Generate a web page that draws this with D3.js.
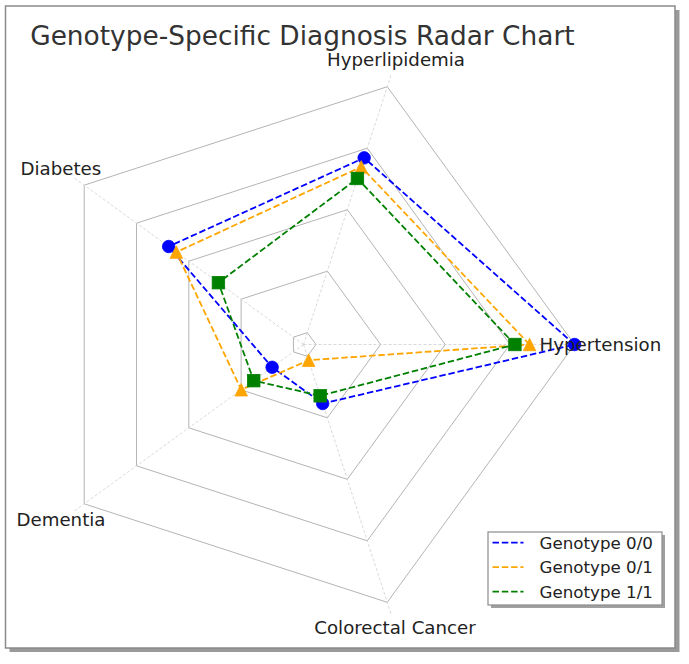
<!DOCTYPE html>
<html>
<head>
<meta charset="utf-8">
<script src="https://cdn.jsdelivr.net/npm/d3@7"></script>
<style>
  html, body { margin: 0; padding: 0; background: #ffffff; }
  svg { display: block; }
  text { font-family: "DejaVu Sans", sans-serif; }
</style>
</head>
<body>
<svg id="chart" width="689" height="664"></svg>
<script>
// ---- data ----
const categories = ["Hypertension", "Hyperlipidemia", "Diabetes", "Dementia", "Colorectal Cancer"];
const seriesNames = ["Genotype 0/0", "Genotype 0/1", "Genotype 1/1"];
const genotype00 = [100.0, 72.4, 61.5, 14.3, 22.9];
const genotype01 = [83.4, 68.9, 58.0, 28.4, 6.1];
const genotype11 = [78.0, 64.4, 38.8, 22.7, 19.9];
const gridTicks = [4.6, 28.45, 52.3, 76.15, 100.0];
const radialMax = 105;

// ---- styles / layout ----
const colors = ["#0000ff", "#ffa500", "#008000"];
const markers = ["circle", "triangle", "square"];
const cx = 303.5, cy = 344.5, R = 284.6;
const labelLayout = [
  {dx: 236, dy: 6, anchor: "start"},
  {dx: 92.5, dy: -278.5, anchor: "middle"},
  {dx: -283, dy: -169.5, anchor: "start"},
  {dx: -287, dy: 181.5, anchor: "start"},
  {dx: 91.5, dy: 289.5, anchor: "middle"}
];

const svg = d3.select("#chart");

// figure frame with shadow
svg.append("rect").attr("x", 9.5).attr("y", 10).attr("width", 670).attr("height", 642)
  .attr("fill", "#9a9a9a");
svg.append("rect").attr("x", 5.5).attr("y", 6).attr("width", 669.5).attr("height", 642)
  .attr("fill", "#ffffff").attr("stroke", "#8a8a8a").attr("stroke-width", 1.5);

// title
svg.append("text").attr("x", 30.2).attr("y", 44.5)
  .attr("font-size", 26.4).attr("fill", "#333333")
  .text("Genotype-Specific Diagnosis Radar Chart");

const n = categories.length;
const angle = d3.scaleLinear().domain([0, n]).range([0, 2 * Math.PI]);
const r = d3.scaleLinear().domain([0, radialMax]).range([0, R]);
const px = (i, v) => cx + r(v) * Math.cos(angle(i));
const py = (i, v) => cy - r(v) * Math.sin(angle(i));

const g = svg.append("g");

// polygon grid
gridTicks.forEach(t => {
  const pts = d3.range(n).map(i => [px(i, t), py(i, t)]);
  g.append("path").attr("d", d3.line().curve(d3.curveLinearClosed)(pts))
    .attr("fill", "none").attr("stroke", "#b4b4b4").attr("stroke-width", 1);
});

// spokes
d3.range(n).forEach(i => {
  g.append("line")
    .attr("x1", cx).attr("y1", cy)
    .attr("x2", px(i, radialMax)).attr("y2", py(i, radialMax))
    .attr("stroke", "#cfcfcf").attr("stroke-width", 0.8)
    .attr("stroke-dasharray", "3,2");
});

// category labels
categories.forEach((c, i) => {
  const L = labelLayout[i];
  svg.append("text").attr("x", cx + L.dx).attr("y", cy + L.dy)
    .attr("text-anchor", L.anchor).attr("font-size", 18.2).attr("fill", "#222222")
    .text(c);
});

// series
const allSeries = [genotype00, genotype01, genotype11];
const ms = 12.5;
function drawMarker(sel, type, x, y, color) {
  if (type === "circle") {
    sel.append("circle").attr("cx", x).attr("cy", y).attr("r", ms / 2)
      .attr("fill", color).attr("stroke", color).attr("stroke-width", 0.8);
  } else if (type === "square") {
    sel.append("rect").attr("x", x - ms / 2).attr("y", y - ms / 2)
      .attr("width", ms).attr("height", ms)
      .attr("fill", color).attr("stroke", color).attr("stroke-width", 0.8);
  } else {
    const h = ms / 2;
    sel.append("path").attr("d", `M${x},${y - h}L${x - h},${y + h}L${x + h},${y + h}Z`)
      .attr("fill", color).attr("stroke", color).attr("stroke-width", 0.8);
  }
}
allSeries.forEach((vals, s) => {
  const pts = vals.map((v, i) => [px(i, v), py(i, v)]);
  const sg = g.append("g");
  sg.append("path").attr("d", d3.line().curve(d3.curveLinearClosed)(pts))
    .attr("fill", "none").attr("stroke", colors[s]).attr("stroke-width", 1.8)
    .attr("stroke-dasharray", "6.5,2.8");
  pts.forEach(p => drawMarker(sg, markers[s], p[0], p[1], colors[s]));
});

// legend
const lg = svg.append("g");
const lx = 488, ly = 532, lw = 174, lh = 73;
lg.append("rect").attr("x", lx + 3).attr("y", ly + 3).attr("width", lw).attr("height", lh)
  .attr("fill", "#a0a0a0");
lg.append("rect").attr("x", lx).attr("y", ly).attr("width", lw).attr("height", lh)
  .attr("fill", "#ffffff").attr("stroke", "#8c8c8c").attr("stroke-width", 1.2);
seriesNames.forEach((name, s) => {
  const y = ly + 10.7 + s * 24.5;
  lg.append("line").attr("x1", lx + 4.5).attr("x2", lx + 35.5).attr("y1", y).attr("y2", y)
    .attr("stroke", colors[s]).attr("stroke-width", 1.8).attr("stroke-dasharray", "6.5,2.8");
  lg.append("text").attr("x", lx + 51.5).attr("y", y + 6.1)
    .attr("font-size", 16.7).attr("fill", "#222222").text(name);
});
</script>
</body>
</html>
